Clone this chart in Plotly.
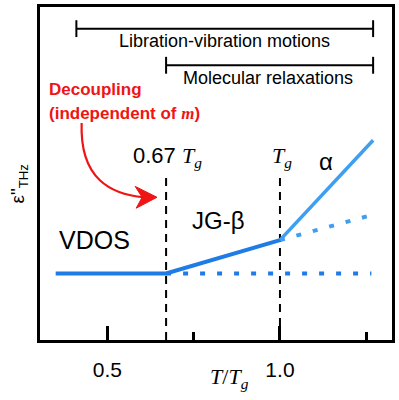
import plotly.graph_objects as go

# ---- data (schematic values) ----
vdos_x = [0.35, 0.67]
vdos_y = [2.0, 2.0]
jg_x = [0.67, 1.0]
jg_y = [2.0, 3.0]
alpha_x = [1.0, 1.27]
alpha_y = [3.0, 6.0]
jg_ext_x = [1.0, 1.265]
jg_ext_y = [3.0, 3.75]
vdos_ext_x = [0.67, 1.265]
vdos_ext_y = [2.0, 2.0]
marker_x = [0.67, 1.0]
marker_top = 5.0
span_labels = ["Libration-vibration motions", "Molecular relaxations"]
span_start = [0.41, 0.67]
span_end = [1.27, 1.27]
span_y = [9.35, 8.25]
tick_vals = [0.5, 1.0]
tick_text = ["0.5", "1.0"]
minor_vals = [0.75, 1.25]

X_RANGE = [0.3046, 1.3247]
Y_RANGE = [0.0, 10.0]
W, H = 399, 400
ML, MR, MT, MB = 40, 4, 4, 60
PW, PH = W - ML - MR, H - MT - MB


def X(px):
    return X_RANGE[0] + (px - ML) / PW * (X_RANGE[1] - X_RANGE[0])


def Y(py):
    return Y_RANGE[0] + (H - MB - py) / PH * (Y_RANGE[1] - Y_RANGE[0])


def PX(px):
    return (px - ML) / PW


def PY(py):
    return (H - MB - py) / PH


SANS = "Liberation Sans, Arial, sans-serif"
SERIF = "Liberation Serif, Times New Roman, serif"
DARK = "#1f7be6"
LIGHT = "#3d9ef2"
RED = "#f01414"

fig = go.Figure()

# dashed vertical markers
for mx in marker_x:
    fig.add_trace(go.Scatter(x=[mx, mx], y=[Y_RANGE[0], marker_top], mode="lines",
                             line=dict(color="black", width=2, dash="8px,6px"),
                             hoverinfo="skip", showlegend=False))

fig.add_trace(go.Scatter(x=vdos_ext_x, y=vdos_ext_y, mode="lines",
                         line=dict(color=DARK, width=4, dash="5px,12px"), showlegend=False))
fig.add_trace(go.Scatter(x=jg_ext_x, y=jg_ext_y, mode="lines",
                         line=dict(color=LIGHT, width=4, dash="5px,12px"), showlegend=False))
fig.add_trace(go.Scatter(x=vdos_x + jg_x[1:], y=vdos_y + jg_y[1:], mode="lines",
                         line=dict(color=DARK, width=4), showlegend=False))
fig.add_trace(go.Scatter(x=alpha_x, y=alpha_y, mode="lines",
                         line=dict(color=LIGHT, width=3.5), showlegend=False))
# invisible trace so the top / right frame axes are drawn
fig.add_trace(go.Scatter(x=alpha_x, y=alpha_y, xaxis="x2", yaxis="y2", mode="lines",
                         line=dict(color="rgba(0,0,0,0)", width=0), hoverinfo="skip",
                         showlegend=False))

shapes = []
# span bars with end caps
cap = Y(16) - Y(33)
for xs, xe, yy in zip(span_start, span_end, span_y):
    shapes.append(dict(type="line", xref="x", yref="y", x0=xs, x1=xe, y0=yy, y1=yy,
                       line=dict(color="black", width=2)))
    for xc in (xs, xe):
        shapes.append(dict(type="line", xref="x", yref="y", x0=xc, x1=xc,
                           y0=yy - cap / 2, y1=yy + cap / 2,
                           line=dict(color="black", width=2)))

# red curved arrow
p0, c1, c2, p3 = (82, 121), (80, 178), (112, 193), (145, 196)
path = "M {} {} C {} {}, {} {}, {} {}".format(
    X(p0[0]), Y(p0[1]), X(c1[0]), Y(c1[1]), X(c2[0]), Y(c2[1]), X(p3[0]), Y(p3[1]))
shapes.append(dict(type="path", xref="x", yref="y", path=path,
                   line=dict(color=RED, width=2.2)))
head = [(158, 196), (136, 185), (143, 196), (137, 207)]
hpath = "M " + " L ".join("{} {}".format(X(a), Y(b)) for a, b in head) + " Z"
shapes.append(dict(type="path", xref="x", yref="y", path=hpath,
                   fillcolor=RED, line=dict(color=RED, width=1)))

ann = []


def txt(text, px, py, size, color="black", family=SANS, xanchor="center", angle=0):
    ann.append(dict(text=text, x=PX(px), y=PY(py), xref="paper", yref="paper",
                    showarrow=False, xanchor=xanchor, yanchor="middle", textangle=angle,
                    font=dict(size=size, color=color, family=family)))


txt(span_labels[0], 226, 38, 18)
txt(span_labels[1], 270, 76, 18)
txt("<b>Decoupling</b>", 47, 87, 17, RED, xanchor="left")
txt('<b>(independent of <span style="font-family:Liberation Serif"><i>m</i></span>)</b>',
    47, 111, 17, RED, xanchor="left")
txt('0.67 <span style="font-family:Liberation Serif"><i>T</i><sub><i>g</i></sub></span>',
    132, 155, 22, xanchor="left")
txt('<i>T</i><sub><i>g</i></sub>', 272, 155, 22, family=SERIF, xanchor="left")
txt("α", 328, 160, 24)
txt("JG-β", 220, 219, 24)
txt("VDOS", 95, 239, 25)
txt('<i>T</i>/<i>T</i><sub><i>g</i></sub>', 231, 378, 22, family=SERIF)
txt('ε"<sub>THz</sub>', 19, 182, 19, angle=-90)

frame = dict(showline=True, linecolor="black", linewidth=3, showgrid=False, zeroline=False)

fig.update_layout(
    width=W, height=H, margin=dict(l=ML, r=MR, t=MT, b=MB),
    paper_bgcolor="white", plot_bgcolor="white",
    shapes=shapes, annotations=ann, showlegend=False,
    xaxis=dict(range=X_RANGE, mirror=True, **frame,
               ticks="inside", ticklen=14, tickwidth=3,
               tickcolor="black", tickvals=tick_vals, ticktext=tick_text,
               tickfont=dict(size=21, family=SANS, color="black"), ticklabelstandoff=9,
               minor=dict(tickvals=minor_vals, ticks="inside", ticklen=8, tickwidth=3,
                          tickcolor="black", showgrid=False)),
    yaxis=dict(range=Y_RANGE, mirror=True, **frame, ticks="", showticklabels=False),
    xaxis2=dict(range=X_RANGE, overlaying="x", side="top", anchor="y2", **frame,
                ticks="", showticklabels=False),
    yaxis2=dict(range=Y_RANGE, overlaying="y", side="right", anchor="x2", **frame,
                ticks="", showticklabels=False),
)

fig.write_html("out.html", config={"displayModeBar": False},
               post_script="document.body.style.margin='0';document.body.style.padding='0';")
